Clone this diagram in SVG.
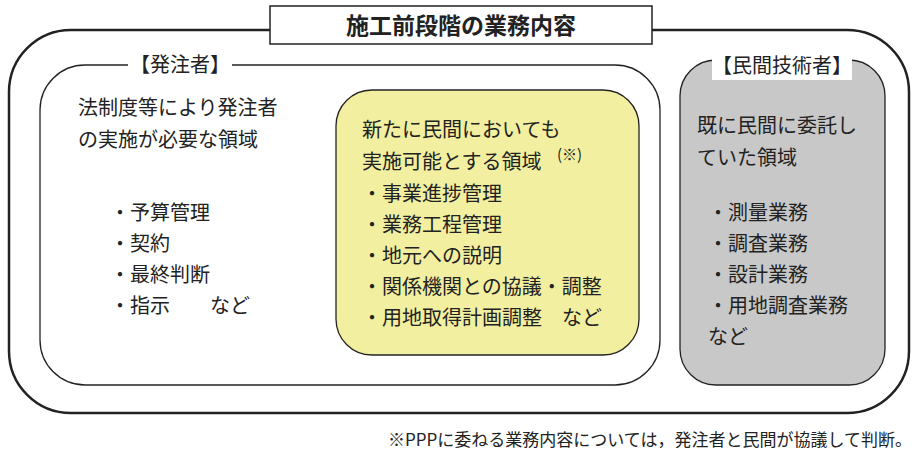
<svg xmlns="http://www.w3.org/2000/svg" width="922" height="454" viewBox="0 0 922 454">
<style>
text{font-family:"Noto Sans CJK JP","Noto Sans",sans-serif;fill:#222;font-size:20px}
.t{font-weight:bold;font-size:23px}
.s{font-size:15px}
</style>
<rect width="922" height="454" fill="#fff"/>
<g id="outer"><rect x="9" y="30" width="900" height="383" rx="62" fill="none" stroke="#222" stroke-width="2.5"/></g>
<g id="title"><rect x="270" y="6" width="382" height="38" fill="#fff" stroke="#222" stroke-width="1.5"/><text class="t" x="461" y="34" text-anchor="middle">施工前段階の業務内容</text></g>
<g id="orderer">
<rect x="40" y="65" width="620" height="320" rx="45" fill="#fff" stroke="#222" stroke-width="1.3"/>
<rect x="128" y="52" width="104" height="26" fill="#fff"/>
<text x="180" y="72" text-anchor="middle">【発注者】</text>
<text x="78" y="115">法制度等により発注者</text>
<text x="78" y="147">の実施が必要な領域</text>
<text x="110" y="220">・予算管理</text>
<text x="110" y="251">・契約</text>
<text x="110" y="282">・最終判断</text>
<text x="110" y="313">・指示　　など</text>
</g>
<g id="new">
<rect x="336" y="90" width="303" height="265" rx="36" fill="#f2f0a0" stroke="#222" stroke-width="1.3"/>
<text x="362" y="137">新たに民間においても</text>
<text x="362" y="169">実施可能とする領域</text>
<text class="s" x="557" y="160">(※)</text>
<text x="362" y="201">・事業進捗管理</text>
<text x="362" y="232">・業務工程管理</text>
<text x="362" y="263">・地元への説明</text>
<text x="362" y="294">・関係機関との協議・調整</text>
<text x="362" y="325">・用地取得計画調整　など</text>
</g>
<g id="private">
<rect x="680" y="60" width="205" height="325" rx="36" fill="#c8c8c8" stroke="#222" stroke-width="1.3"/>
<rect x="712" y="54" width="140" height="26" fill="#fff"/>
<text x="782" y="73" text-anchor="middle">【民間技術者】</text>
<text x="697" y="133">既に民間に委託し</text>
<text x="697" y="165">ていた領域</text>
<text x="708" y="220">・測量業務</text>
<text x="708" y="251">・調査業務</text>
<text x="708" y="282">・設計業務</text>
<text x="708" y="313">・用地調査業務</text>
<text x="708" y="344">など</text>
</g>
<g id="connectors"/>
<text x="912" y="446" text-anchor="end" style="font-size:17px">※PPPに委ねる業務内容については，発注者と民間が協議して判断。</text>
</svg>
